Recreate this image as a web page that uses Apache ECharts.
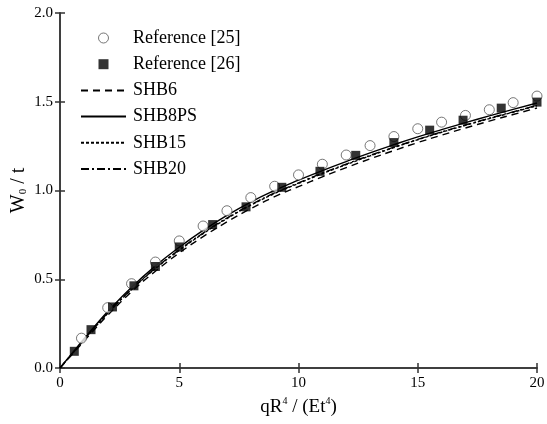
<!DOCTYPE html>
<html><head><meta charset="utf-8">
<script src="https://cdn.jsdelivr.net/npm/echarts@6/dist/echarts.min.js"></script>
<style>html,body{margin:0;padding:0;background:#fff}#c{width:547px;height:424px}</style>
</head><body><div id="c"></div>
<script>
var curveX = [0,0.5,1,1.5,2,3,4,5,6,7,8,9,10,11,12,13,14,15,16,17,18,19,20];
var shb6 = [0,0.075,0.15,0.225,0.297,0.43,0.545,0.648,0.74,0.823,0.898,0.965,1.022,1.077,1.129,1.178,1.225,1.27,1.312,1.352,1.391,1.428,1.465];
var shb8ps = [0,0.082,0.163,0.242,0.318,0.455,0.575,0.68,0.775,0.86,0.935,1.0,1.058,1.112,1.163,1.212,1.258,1.302,1.343,1.382,1.42,1.457,1.493];
var shb15 = [0,0.079,0.157,0.234,0.308,0.442,0.56,0.663,0.757,0.842,0.917,0.983,1.04,1.095,1.146,1.195,1.242,1.286,1.328,1.367,1.405,1.441,1.478];
var shb20 = [0,0.079,0.158,0.236,0.31,0.444,0.562,0.666,0.76,0.845,0.92,0.986,1.043,1.098,1.149,1.198,1.244,1.288,1.33,1.369,1.407,1.443,1.48];
var ref25X = [0.9,2,3,4,5,6,7,8,9,10,11,12,13,14,15,16,17,18,19,20];
var ref25Y = [0.168,0.34,0.475,0.597,0.716,0.80,0.886,0.96,1.024,1.088,1.148,1.20,1.253,1.304,1.348,1.385,1.423,1.455,1.495,1.532];
var ref26X = [0.6,1.3,2.2,3.1,4.0,5.0,6.4,7.8,9.3,10.9,12.4,14.0,15.5,16.9,18.5,20.0];
var ref26Y = [0.094,0.216,0.344,0.463,0.572,0.682,0.808,0.908,1.018,1.108,1.198,1.27,1.34,1.396,1.464,1.498];
var xTicks = [0,5,10,15,20];
var yTicks = ['0.0','0.5','1.0','1.5','2.0'];

function zip(a,b){return a.map(function(v,i){return [v,b[i]];});}
var F = 'Liberation Serif';
var axisCommon = {
  axisLine:{show:true,lineStyle:{color:'#333',width:1.5}},
  axisTick:{show:true,inside:true,length:5,lineStyle:{color:'#333',width:1.5}},
  splitLine:{show:false}
};
function lineSeries(name, data, type){
  return {name:name,type:'line',data:zip(curveX,data),smooth:true,symbol:'none',
    itemStyle:{color:'rgba(0,0,0,0)'},
    lineStyle:{color:'#000',width:1.4,type:type},z:2};
}
var chart = echarts.init(document.getElementById('c'));
chart.setOption({
  animation:false,
  backgroundColor:'#fff',
  grid:{left:60,right:10,top:13,bottom:56,containLabel:false,outerBoundsMode:'none'},
  legend:{
    orient:'vertical',left:75,top:24,itemWidth:45,itemHeight:10,itemGap:8.2,
    textStyle:{fontFamily:F,fontSize:18,color:'#000',padding:[0,0,0,2]},
    data:[
      {name:'Reference [25]',icon:'path://M5,0A5,5,0,1,1,4.999,0Z',itemStyle:{color:'#fff',borderColor:'#555',borderWidth:1}},
      {name:'Reference [26]',icon:'path://M0,0L10,0L10,10L0,10Z'},
      {name:'SHB6'},{name:'SHB8PS'},{name:'SHB15'},{name:'SHB20'}
    ]
  },
  xAxis:[
    Object.assign({type:'value',min:0,max:20,interval:5,
      axisLabel:{fontFamily:F,fontSize:15,color:'#000',margin:8,
        formatter:function(v){return xTicks.indexOf(v)>=0?String(v):'';}},
      name:'{a|qR}{s|4}{a| / (Et}{s|4}{a|)}',nameLocation:'middle',nameGap:25,
      nameTextStyle:{rich:{a:{fontFamily:F,fontSize:19,color:'#000'},s:{fontFamily:F,fontSize:10,color:'#000',verticalAlign:'bottom',padding:[0,0,12,0]}}}
    },axisCommon),
    Object.assign({type:'value',min:0,max:20,interval:5,position:'top',axisLabel:{show:false}},axisCommon)
  ],
  yAxis:[
    Object.assign({type:'value',min:0,max:2,interval:0.5,
      axisLabel:{fontFamily:F,fontSize:15,color:'#000',margin:7,
        formatter:function(v){return yTicks[Math.round(v/0.5)];}},
      name:'{a|W}{s|0}{a| / t}',nameLocation:'middle',nameGap:31,nameRotate:90,nameMoveOverlap:false,
      nameTextStyle:{rich:{a:{fontFamily:F,fontSize:20,color:'#000'},s:{fontFamily:F,fontSize:11,color:'#000',verticalAlign:'top',padding:[10,0,0,0]}}}
    },axisCommon),
    Object.assign({type:'value',min:0,max:2,interval:0.5,position:'right',axisLabel:{show:false}},axisCommon)
  ],
  series:[
    {name:'Reference [25]',type:'scatter',data:zip(ref25X,ref25Y),symbol:'circle',symbolSize:10,symbolKeepAspect:true,
      itemStyle:{color:'#fff',borderColor:'#555',borderWidth:1},z:4},
    {name:'Reference [26]',type:'scatter',data:zip(ref26X,ref26Y),symbol:'rect',symbolSize:9,symbolKeepAspect:true,
      itemStyle:{color:'#000'},z:5},
    lineSeries('SHB6',shb6,[7,5]),
    lineSeries('SHB8PS',shb8ps,'solid'),
    lineSeries('SHB15',shb15,[3,2]),
    lineSeries('SHB20',shb20,[8,3,2,3])
  ]
});
</script></body></html>
